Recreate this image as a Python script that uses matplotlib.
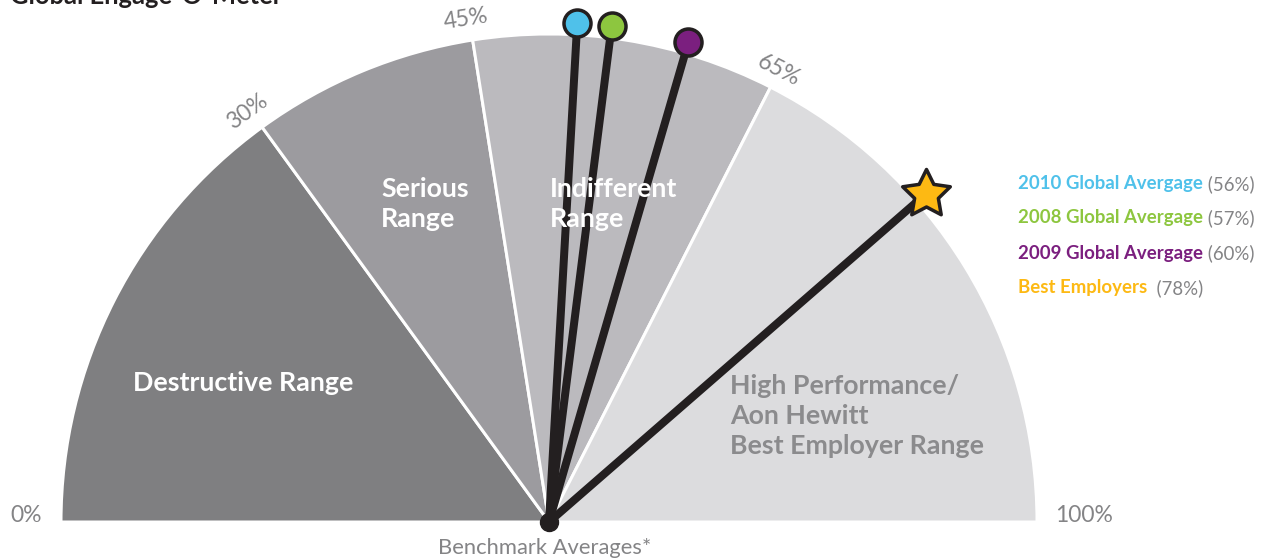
import numpy as np
import matplotlib.pyplot as plt
from matplotlib.patches import Wedge
from matplotlib.path import Path

# rangos del medidor (en %)
limites = [0, 30, 45, 65, 100]
colores_rango = ['#7f7f81', '#9c9b9f', '#bbbabe', '#dcdcde']
etiquetas_limite = ['0%', '30%', '45%', '65%', '100%']

# agujas: etiqueta, valor, posicion dibujada, color
nombres = ['2010 Global Avergage', '2008 Global Avergage', '2009 Global Avergage', 'Best Employers']
valores = [56, 57, 60, 78]
pos_aguja = [51.8, 54.0, 59.0, 77.2]
colores_aguja = ['#4fc1ea', '#8dc63f', '#7b1f7f', '#fdb913']

plt.rcParams['font.family'] = ['Lato', 'DejaVu Sans']

W, H = 1270, 559
fig = plt.figure(figsize=(W / 100, H / 100), dpi=100)
ax = fig.add_axes([0, 0, 1, 1])
ax.set_xlim(0, W)
ax.set_ylim(0, H)
ax.axis('off')

cx, cy = 549, 559 - 522
R = 488
PT = 72 / 100  # px -> pt


def ang(p):
    return np.radians(180 - 1.8 * p)


# sectores
for i in range(len(colores_rango)):
    w = Wedge((cx, cy), R, 180 - 1.8 * limites[i + 1], 180 - 1.8 * limites[i],
              facecolor=colores_rango[i], edgecolor='white', lw=3 * PT)
    ax.add_patch(w)

# agujas
L = 500
star = Path.unit_regular_star(5, innerCircle=0.5)
for k in range(len(valores)):
    a = ang(pos_aguja[k])
    x2, y2 = cx + L * np.cos(a), cy + L * np.sin(a)
    ax.plot([cx, x2], [cy, y2], color='#231f20', lw=8 * PT, solid_capstyle='butt', zorder=3)
    if k < 3:
        ax.plot(x2, y2, 'o', ms=27 * PT, mfc=colores_aguja[k], mec='#231f20', mew=3.5 * PT, zorder=4)
    else:
        ax.plot(x2, y2, marker=star, ms=50 * PT, mfc=colores_aguja[k], mec='#231f20', mew=3.5 * PT, zorder=4)
ax.plot(cx, cy, 'o', ms=18 * PT, color='#231f20', zorder=5)

gris = '#848486'
# etiquetas de limites
fs_lim = 16.5
ax.text(10, 559 - 515, etiquetas_limite[0], color=gris, fontsize=fs_lim, va='center', ha='left')
ax.text(1055, 559 - 515, etiquetas_limite[4], color=gris, fontsize=fs_lim, va='center', ha='left')
ax.text(247, 559 - 112, etiquetas_limite[1], color=gris, fontsize=fs_lim, va='center', ha='center', rotation=36)
ax.text(466, 559 - 19, etiquetas_limite[2], color=gris, fontsize=fs_lim, va='center', ha='center', rotation=9)
ax.text(779, 559 - 70, etiquetas_limite[3], color=gris, fontsize=fs_lim, va='center', ha='center', rotation=-27)

# etiquetas de rangos
ax.text(243, 559 - 383, 'Destructive Range', color='white', fontsize=19.3, fontweight='bold',
        ha='center', va='center')
ax.text(381, 559 - 204, 'Serious\nRange', color='white', fontsize=19.3, fontweight='bold',
        ha='left', va='center', linespacing=1.27)
ax.text(550, 559 - 204, 'Indifferent\nRange', color='white', fontsize=19.3, fontweight='bold',
        ha='left', va='center', linespacing=1.27)
ax.text(730, 559 - 416, 'High Performance/\nAon Hewitt\nBest Employer Range', color='#8b8b8d',
        fontsize=19.3, fontweight='bold', ha='left', va='center', linespacing=1.3)

ax.text(545, 559 - 548, 'Benchmark Averages*', color=gris, fontsize=15.8, ha='center', va='center')

# titulo (cortado arriba)
ax.text(10, 559 - 4, 'Global Engage-O-Meter', color='#231f20', fontsize=18.4, fontweight='bold',
        ha='left', va='baseline')

# leyenda
ys = [184, 218, 253, 288]
for k in range(len(nombres)):
    t = ax.text(1018, 559 - ys[k], nombres[k], color=colores_aguja[k], fontsize=13.4,
                fontweight='bold', ha='left', va='center')
    fig.canvas.draw()
    bb = t.get_window_extent()
    sep = '  ' if k == 3 else ' '
    ax.text(bb.x1, 559 - ys[k], sep + '(%d%%)' % valores[k], color=gris, fontsize=13.4,
            ha='left', va='center')

fig.savefig('out.png', dpi=100)
